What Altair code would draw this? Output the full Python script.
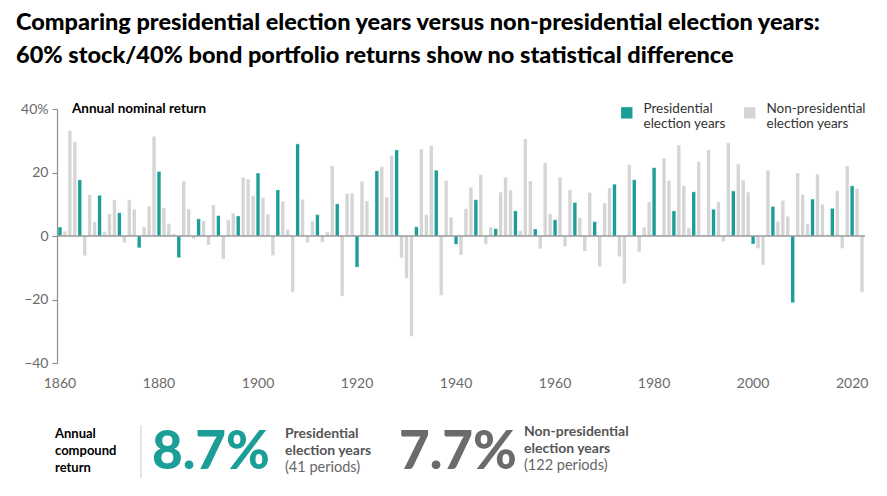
import altair as alt
import pandas as pd

years = list(range(1860, 2023))
returns = [
    2.6, 1.3, 33.0, 29.5, 17.5, -6.0, 12.8, 4.3, 12.6, 1.2,
    6.8, 11.2, 7.1, -1.9, 11.2, 8.2, -3.5, 2.6, 9.2, 31.2,
    20.1, 8.6, 3.7, 0.5, -6.6, 17.1, 8.3, -0.7, 5.2, 4.6,
    -2.6, 9.6, 6.2, -7.1, 4.9, 7.0, 6.1, 18.3, 17.7, 12.5,
    19.6, 11.9, 6.7, -5.9, 14.3, 10.7, 1.8, -17.5, 28.8, 11.3,
    -1.9, 4.6, 6.5, -1.8, 1.0, 21.9, 9.9, -18.7, 13.1, 13.3,
    -9.6, 17.0, 10.8, 0.2, 20.3, 21.6, 12.0, 25.2, 26.9, -6.7,
    -13.1, -31.4, 2.7, 27.2, 6.5, 28.3, 20.5, -18.5, 17.3, 5.7,
    -2.4, -5.8, 8.4, 15.1, 11.2, 19.1, -2.4, 2.6, 2.1, 13.6,
    18.3, 14.2, 7.7, 1.5, 30.4, 17.1, 2.0, -3.8, 22.9, 6.8,
    4.9, 18.3, -3.1, 14.3, 10.3, 5.5, -4.6, 13.5, 4.3, -9.4,
    10.2, 14.9, 16.1, -6.3, -14.8, 22.3, 17.5, -4.8, 2.6, 10.5,
    21.3, 0.1, 24.3, 17.3, 7.7, 28.4, 15.6, 2.3, 13.7, 23.2,
    0.2, 26.9, 8.2, 10.5, -1.5, 29.2, 14.0, 22.5, 17.4, 13.6,
    -2.3, -3.7, -8.9, 20.5, 9.1, 4.4, 11.0, 6.0, -20.8, 19.6,
    12.9, 3.6, 11.4, 19.3, 9.8, 0.2, 8.5, 14.0, -3.7, 21.9,
    15.6, 14.7, -17.5,
]
series_names = ["Presidential election years", "Non-presidential election years"]
x_tick_labels = [1860, 1880, 1900, 1920, 1940, 1960, 1980, 2000, 2020]
y_ticks = [-40, -20, 0, 20, 40]

df = pd.DataFrame({
    "year": years,
    "ret": returns,
    "type": [series_names[0] if (y - 1860) % 4 == 0 else series_names[1] for y in years],
})

FONT = "Lato"
TEAL = "#1b9e97"
TEAL_DARK = "#0f6a65"
GRAY = "#d5d5d5"
GRAY_DARK = "#555555"
AXIS_GRAY = "#8e8e8e"
LABEL_GRAY = "#6a6a6a"

W, H = 808, 254

xenc = alt.X(
    "year:O",
    scale=alt.Scale(paddingInner=0.32, paddingOuter=0.26),
    axis=alt.Axis(
        values=x_tick_labels, labelAngle=0, title=None, domain=False, ticks=False,
        labelPadding=13, labelFontSize=14, labelColor=LABEL_GRAY, labelFont=FONT,
        labelFontWeight="normal",
    ),
)
yscale = alt.Scale(domain=[-40, 40], nice=False)

bars = alt.Chart(df).mark_bar().encode(
    x=xenc,
    y=alt.Y(
        "ret:Q", scale=yscale,
        axis=alt.Axis(
            values=y_ticks, title=None, grid=False, domainColor=AXIS_GRAY,
            tickColor=AXIS_GRAY, tickSize=5, labelPadding=4, labelFontSize=14,
            labelColor=LABEL_GRAY, labelFont=FONT, domainWidth=1.2, tickWidth=1.2,
            labelExpr="datum.value == 40 ? datum.label + '%' : datum.label",
        ),
    ),
    y2=alt.datum(0),
    color=alt.Color(
        "type:N",
        scale=alt.Scale(domain=series_names, range=[TEAL, GRAY]),
        legend=alt.Legend(
            orient="none", legendX=563, legendY=-3, direction="horizontal",
            title=None, symbolType="square", symbolSize=130, symbolStrokeWidth=0,
            labelFont=FONT, labelFontSize=13.5, labelColor="#333333",
            labelBaseline="alphabetic", labelOffset=10,
            columnPadding=17, labelLimit=200,
            labelExpr="datum.label == 'Presidential election years' ? ['Presidential', 'election years'] : ['Non-presidential', 'election years']",
        ),
    ),
)

caps = alt.Chart(df).mark_tick(thickness=1.4, size=3.4).encode(
    x=alt.X("year:O"),
    y=alt.Y("ret:Q", scale=yscale),
    color=alt.Color("type:N", scale=alt.Scale(domain=series_names, range=[TEAL_DARK, GRAY_DARK]), legend=None),
)

zero = alt.Chart(pd.DataFrame({"z": [0]})).mark_rule(color="#9a9a9a", strokeWidth=1.6).encode(
    y=alt.Y("z:Q", scale=yscale)
)

dummy = pd.DataFrame({"a": [0]})


def txt(t, x, y, size=13, weight="normal", color="#000000", align="left", font=FONT, baseline="alphabetic"):
    return alt.Chart(dummy).mark_text(
        align=align, baseline=baseline, fontSize=size, fontWeight=weight, color=color, font=font
    ).encode(x=alt.value(x), y=alt.value(y), text=alt.value(t))


OX, OY = 57, 109  # page position of plot origin

texts = [
    txt("Comparing presidential election years versus non-presidential election years:", 16 - OX, 30 - OY, size=23.5, weight=900),
    txt("60% stock/40% bond portfolio returns show no statistical difference", 16 - OX, 63 - OY, size=23.5, weight=900),
    txt("Annual nominal return", 72 - OX, 113 - OY, size=13.5, weight="bold"),
    txt("Annual", 55 - OX, 438 - OY, size=13, weight="bold"),
    txt("compound", 55 - OX, 455 - OY, size=13, weight="bold"),
    txt("return", 55 - OX, 472 - OY, size=13, weight="bold"),
    txt("8.7%", 152 - OX, 469 - OY, size=53, weight=900, color=TEAL),
    txt("Presidential", 285 - OX, 438 - OY, size=14, weight="bold", color="#555555"),
    txt("election years", 285 - OX, 455 - OY, size=14, weight="bold", color="#555555"),
    txt("(41 periods)", 285 - OX, 472 - OY, size=14.5, color="#666666"),
    txt("7.7%", 399 - OX, 469 - OY, size=53, weight=900, color="#6b6b6b"),
    txt("Non-presidential", 524 - OX, 436 - OY, size=14, weight="bold", color="#555555"),
    txt("election years", 524 - OX, 453 - OY, size=14, weight="bold", color="#555555"),
    txt("(122 periods)", 524 - OX, 470 - OY, size=14.5, color="#666666"),
]

sep = alt.Chart(dummy).mark_rule(color="#cccccc", strokeWidth=1).encode(
    x=alt.value(141 - OX), y=alt.value(425 - OY), y2=alt.value(478 - OY)
)

chart = alt.layer(bars, caps, zero, sep, *texts).properties(
    width=W, height=H,
    autosize=alt.AutoSizeParams(type="none"),
    padding={"left": 49, "top": 101, "right": 14, "bottom": 125},
).configure(font=FONT).configure_view(stroke=None)

chart.save("out.html", embed_options={"renderer": "svg", "actions": False})
